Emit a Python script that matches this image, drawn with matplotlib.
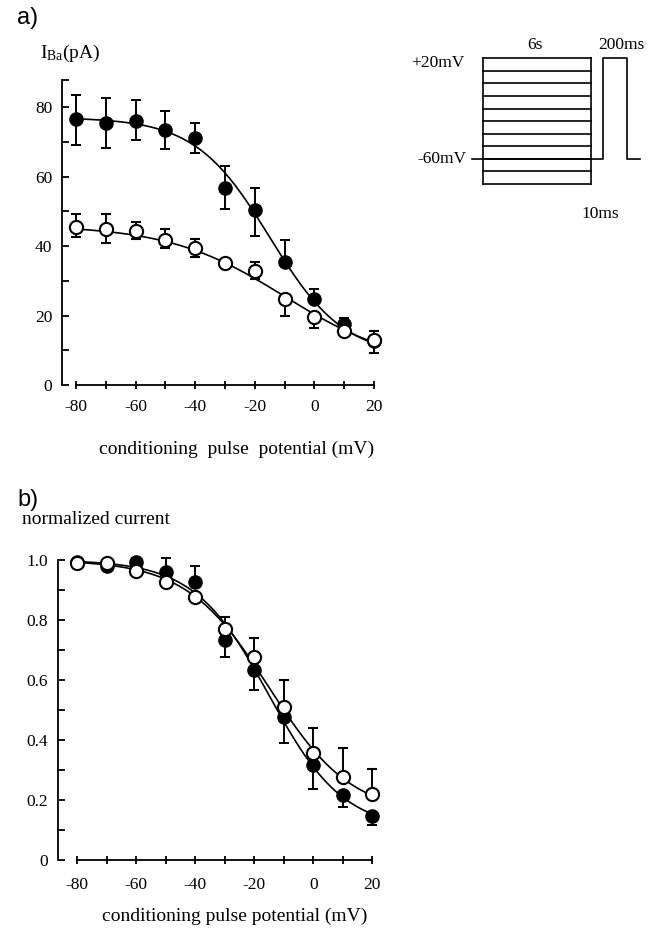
import matplotlib
matplotlib.use("Agg")
import matplotlib.pyplot as plt
import numpy as np

plt.rcParams['font.family'] = ['Liberation Serif', 'DejaVu Serif']
plt.rcParams['axes.unicode_minus'] = False
plt.rcParams['mathtext.fontset'] = 'custom'
plt.rcParams['mathtext.rm'] = 'Liberation Serif'
plt.rcParams['mathtext.it'] = 'Liberation Serif:italic'

# ---------------- data ----------------
voltages = [-80, -70, -60, -50, -40, -30, -20, -10, 0, 10, 20]

# panel a: I_Ba (pA)
a_filled = [76.5, 75.3, 76.1, 73.4, 71.0, 56.8, 50.4, 35.4, 24.7, 17.7, 12.7]
a_filled_err_up = [7.0, 7.2, 6.0, 5.5, 4.5, 6.2, 6.3, 6.3, 3.0, 1.5, 0.0]
a_filled_err_dn = [7.5, 7.0, 5.6, 5.6, 4.1, 6.0, 7.4, 0.0, 0.0, 1.0, 0.0]
a_open = [45.6, 44.8, 44.3, 41.7, 39.5, 35.0, 32.8, 24.7, 19.7, 15.5, 12.9]
a_open_err_up = [3.5, 4.3, 2.6, 3.1, 2.6, 1.2, 2.7, 0.0, 0.0, 0.8, 2.7]
a_open_err_dn = [3.1, 4.0, 2.4, 2.4, 2.6, 1.2, 2.4, 4.8, 3.4, 0.8, 3.8]

# Boltzmann fit parameters (bottom, top, V1/2, slope)
a_filled_fit = (8.0, 77.0, -15.0, 12.5)
a_open_fit = (5.0, 46.0, -10.0, 19.5)

# panel b: normalized current
b_filled = [0.994, 0.98, 0.994, 0.961, 0.926, 0.733, 0.633, 0.476, 0.317, 0.217, 0.147]
b_filled_err_up = [0, 0, 0, 0.045, 0.055, 0, 0, 0, 0, 0, 0]
b_filled_err_dn = [0, 0, 0, 0, 0, 0.055, 0.066, 0.085, 0.08, 0.04, 0.03]
b_open = [0.99, 0.99, 0.963, 0.928, 0.876, 0.769, 0.676, 0.511, 0.358, 0.276, 0.219]
b_open_err_up = [0, 0, 0, 0, 0, 0.042, 0.063, 0.089, 0.081, 0.096, 0.084]
b_open_err_dn = [0] * 11

b_filled_fit = (0.10, 1.0, -15.07, 12.66)
b_open_fit = (0.15, 1.0, -15.0, 14.0)

# pulse protocol (schematic)
cond_levels = voltages
hold_mv = -60
test_mv = 20


def boltz(v, p):
    lo, hi, vh, k = p
    return lo + (hi - lo) / (1.0 + np.exp((v - vh) / k))


W, H = 660, 932
fig = plt.figure(figsize=(W / 100, H / 100), dpi=100)


def px_axes(x0, y0, x1, y1):
    return fig.add_axes([x0 / W, 1 - y1 / H, (x1 - x0) / W, (y1 - y0) / H])


def draw_panel(ax, yf, yfu, yfd, yo, you, yod, pf, po):
    vv = np.linspace(voltages[0], voltages[-1], 300)
    ax.plot(vv, boltz(vv, pf), color='black', lw=1.2, zorder=2, clip_on=False)
    ax.plot(vv, boltz(vv, po), color='black', lw=1.2, zorder=2, clip_on=False)
    ebf = ax.errorbar(voltages, yf, yerr=[yfd, yfu], fmt='o', ms=9.5,
                      mfc='black', mec='black', ecolor='black', elinewidth=1.4,
                      capsize=3.5, capthick=1.4, zorder=3)
    ebo = ax.errorbar(voltages, yo, yerr=[yod, you], fmt='o', ms=9.5,
                      mfc='white', mec='black', mew=1.5, ecolor='black',
                      elinewidth=1.4, capsize=3.5, capthick=1.4, zorder=4)
    for eb in (ebf, ebo):
        for art in eb.get_children():
            art.set_clip_on(False)
    for s in ('top', 'right'):
        ax.spines[s].set_visible(False)
    for s in ('left', 'bottom'):
        ax.spines[s].set_linewidth(1.3)
    ax.spines['bottom'].set_bounds(-80, 20)
    ax.set_xticks([-80, -60, -40, -20, 0, 20])
    ax.set_xticks([-70, -50, -30, -10, 10], minor=True)
    ax.tick_params(axis='x', which='both', direction='inout', length=6,
                   width=1.3, labelsize=12.5, pad=7)
    ax.tick_params(axis='y', which='both', direction='in', length=5,
                   width=1.3, labelsize=12.5, pad=7)
    ax.patch.set_alpha(0)


# ---------------- panel a ----------------
axa = px_axes(62, 80, 375, 385)
axa.set_xlim(-84.7, 20.3)
axa.set_ylim(0, 87.8)
draw_panel(axa, a_filled, a_filled_err_up, a_filled_err_dn,
           a_open, a_open_err_up, a_open_err_dn, a_filled_fit, a_open_fit)
axa.set_yticks([0, 20, 40, 60, 80])
axa.set_yticks([10, 30, 50, 70, 87.8], minor=True)
axa.set_yticklabels(['0', '20', '40', '60', '80'])

# ---------------- panel b ----------------
axb = px_axes(58, 560, 373, 860)
axb.set_xlim(-86.5, 20.2)
axb.set_ylim(0, 1.0)
draw_panel(axb, b_filled, b_filled_err_up, b_filled_err_dn,
           b_open, b_open_err_up, b_open_err_dn, b_filled_fit, b_open_fit)
axb.set_yticks([0, 0.2, 0.4, 0.6, 0.8, 1.0])
axb.set_yticklabels(['0', '0.2', '0.4', '0.6', '0.8', '1.0'])
axb.set_yticks([0.1, 0.3, 0.5, 0.7, 0.9], minor=True)
axb.tick_params(axis='x', pad=9)

# ---------------- texts ----------------
def ftext(x, y, s, **kw):
    fig.text(x / W, 1 - y / H, s, **kw)

ftext(17, 18, 'a)', family=['Liberation Sans', 'DejaVu Sans'], fontsize=17,
      ha='left', va='center')
ftext(40, 53, r'I$_{\rm Ba}$(pA)', fontsize=14, ha='left', va='center')
ftext(237, 449, 'conditioning  pulse  potential (mV)', fontsize=14,
      ha='center', va='center')

ftext(17, 500, 'b)', family=['Liberation Sans', 'DejaVu Sans'], fontsize=17,
      ha='left', va='center')
ftext(22, 519, 'normalized current', fontsize=14, ha='left', va='center')
ftext(235, 916, 'conditioning pulse potential (mV)', fontsize=14,
      ha='center', va='center')

# ---------------- inset protocol ----------------
axi = px_axes(471, 56, 641, 186)
axi.set_xlim(-0.108, 1.466)
axi.set_ylim(-81.6, 21.8)
axi.axis('off')
lo, hi = min(cond_levels), max(cond_levels)
for lv in cond_levels:
    axi.plot([0, 1], [lv, lv], color='black', lw=1.2, clip_on=False)
axi.plot([0, 0], [lo, hi], color='black', lw=1.2, clip_on=False)
axi.plot([1, 1], [lo, hi], color='black', lw=1.2, clip_on=False)
axi.plot([-0.1, 1.111, 1.111, 1.339, 1.339, 1.457],
         [hold_mv, hold_mv, test_mv, test_mv, hold_mv, hold_mv],
         color='black', lw=1.2, clip_on=False)
axi.text(0.48, 30.6, '6s', fontsize=12.5, ha='center', va='center')
axi.text(1.28, 30.6, '200ms', fontsize=12.5, ha='center', va='center')
axi.text(-0.17, 16, '+20mV', fontsize=12.5, ha='right', va='center')
axi.text(-0.15, hold_mv, '-60mV', fontsize=12.5, ha='right', va='center')
axi.text(1.086, -103.9, '10ms', fontsize=12.5, ha='center', va='center')

fig.savefig('out.png', dpi=100)
